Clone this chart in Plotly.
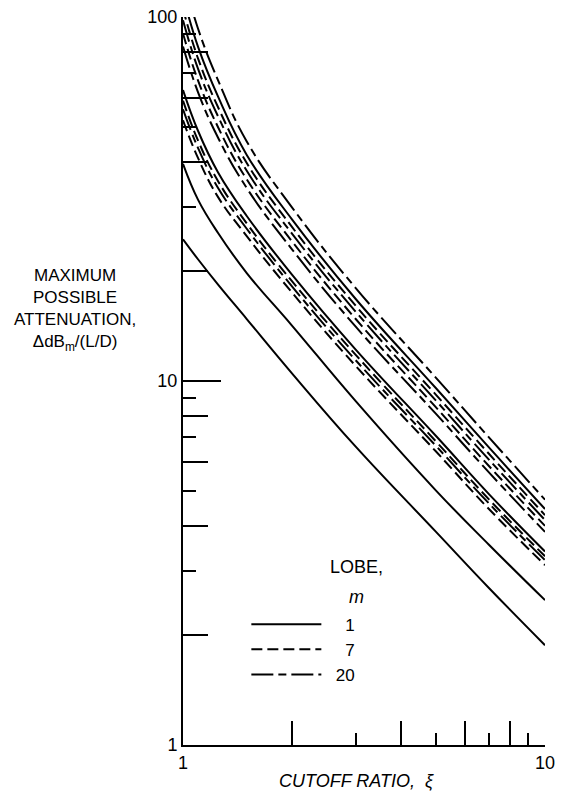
import plotly.graph_objects as go

# Cutoff ratio sample points (x)
xi = [1, 1.1, 1.25, 1.5, 2, 3, 5, 7, 10]

# Lobe m = 1 (solid)
lobe1_a = [24.5, 21.6, 18.4, 14.8, 10.5, 6.6, 3.85, 2.70, 1.88]
lobe1_b = [39.5, 31.5, 25.5, 19.8, 14.2, 8.8, 5.0, 3.55, 2.50]
lobe1_c = [63.0, 48.7, 37.4, 28.4, 19.6, 12.2, 7.06, 4.89, 3.40]
lobe1_d = [114.4, 82.9, 60.4, 41.8, 27.8, 16.8, 9.55, 6.57, 4.45]

# Lobe m = 7 (dashed)
lobe7_a = [52.0, 41.0, 32.0, 25.0, 17.5, 11.0, 6.4, 4.45, 3.12]
lobe7_b = [58.9, 45.8, 35.4, 27.1, 18.8, 11.8, 6.82, 4.73, 3.30]
lobe7_c = [90.1, 67.0, 49.8, 35.8, 24.2, 14.8, 8.46, 5.84, 4.00]
lobe7_d = [105.3, 77.0, 56.5, 39.7, 26.5, 16.1, 9.16, 6.31, 4.28]

# Lobe m = 20 (long dash)
lobe20_a = [55.8, 43.7, 33.9, 26.2, 18.2, 11.4, 6.63, 4.61, 3.22]
lobe20_b = [83.0, 62.2, 46.6, 33.9, 23.0, 14.1, 8.12, 5.61, 3.85]
lobe20_c = [97.9, 72.1, 53.3, 37.8, 25.4, 15.5, 8.83, 6.08, 4.15]
lobe20_d = [130.0, 93.0, 67.0, 45.5, 30.0, 18.0, 10.2, 7.0, 4.72]

lobe_labels = ["1", "7", "20"]

x_major = [1, 10]
x_even = [2, 4, 6, 8]
x_odd = [3, 5, 7, 9]
y_major = [1, 10, 100]
y_major_text = ["1", "10", "100"]
y_even = [2, 4, 6, 8, 20, 40, 60, 80]
y_odd = [3, 5, 7, 9, 30, 50, 70, 90]

FONT = "Liberation Sans, Arial, sans-serif"
NB = "\u00a0"

groups = [
    (lobe_labels[0], "solid", [lobe1_a, lobe1_b, lobe1_c, lobe1_d]),
    (lobe_labels[1], "11px,5px", [lobe7_a, lobe7_b, lobe7_c, lobe7_d]),
    (lobe_labels[2], "22px,5px,8px,5px", [lobe20_a, lobe20_b, lobe20_c, lobe20_d]),
]

fig = go.Figure()
for gi, (lab, dash, curves) in enumerate(groups):
    for ci, ys in enumerate(curves):
        fig.add_trace(go.Scatter(
            x=xi, y=ys, mode="lines",
            line=dict(color="black", width=2, dash=dash, shape="spline", smoothing=1.2),
            name=NB * (6 - 2 * len(lab)) + lab,
            legendgroup=lab, showlegend=(ci == 0), legendrank=gi + 1,
            xaxis="x2" if (gi == 0 and ci == 0) else "x",
            yaxis="y2" if (gi == 0 and ci == 1) else "y",
            hoverinfo="skip",
        ))

axis_common = dict(type="log", showgrid=False, zeroline=False, ticks="inside",
                   tickcolor="black", tickwidth=2, automargin=False)

fig.update_layout(
    width=559, height=790,
    margin=dict(l=175, r=22, t=9, b=53, autoexpand=False),
    paper_bgcolor="white", plot_bgcolor="white",
    font=dict(family=FONT, size=18, color="black"),
    xaxis=dict(**axis_common, range=[0, 1], tickvals=x_major, ticktext=["1", "10"],
               ticklen=36, showline=True, linecolor="black", linewidth=2,
               minor=dict(tickvals=x_even, ticklen=24, ticks="inside", tickcolor="black", tickwidth=2),
               tickfont=dict(size=18), ticklabeloverflow="allow"),
    xaxis2=dict(**axis_common, range=[0, 1], overlaying="x", anchor="y", side="bottom",
                tickvals=x_odd, ticklen=12, showticklabels=False, showline=False),
    yaxis=dict(**axis_common, range=[0, 2], tickvals=y_major, ticktext=y_major_text,
               ticklen=38, showline=True, linecolor="black", linewidth=2,
               minor=dict(tickvals=y_even, ticklen=25, ticks="inside", tickcolor="black", tickwidth=2),
               tickfont=dict(size=18), ticklabeloverflow="allow"),
    yaxis2=dict(**axis_common, range=[0, 2], overlaying="y", anchor="x", side="left",
                tickvals=y_odd, ticklen=13, showticklabels=False, showline=False),
    showlegend=True,
    legend=dict(x=0.175, y=0.19, xanchor="left", yanchor="top", bgcolor="rgba(0,0,0,0)",
                itemwidth=70, font=dict(size=17, family=FONT), tracegroupgap=0,
                traceorder="normal"),
)

fig.add_annotation(xref="paper", yref="paper", x=0.48, y=0.2445, xanchor="center", yanchor="middle",
                   text="LOBE,", showarrow=False, font=dict(size=18, family=FONT))
fig.add_annotation(xref="paper", yref="paper", x=0.48, y=0.203, xanchor="center", yanchor="middle",
                   text="<i>m</i>", showarrow=False, font=dict(size=18, family=FONT))
fig.add_annotation(xref="paper", yref="paper", x=-0.298, y=0.597, xanchor="center", yanchor="middle",
                   text="MAXIMUM<br>POSSIBLE<br>ATTENUATION,<br>\u0394dB<sub>m</sub>/(L/D)",
                   showarrow=False, font=dict(size=17, family=FONT))
fig.add_annotation(xref="paper", yref="paper", x=0.48, y=-0.05, xanchor="center", yanchor="middle",
                   text="<i>CUTOFF RATIO,  \u03be</i>", showarrow=False, font=dict(size=18, family=FONT))

fig.write_html("out.html")
